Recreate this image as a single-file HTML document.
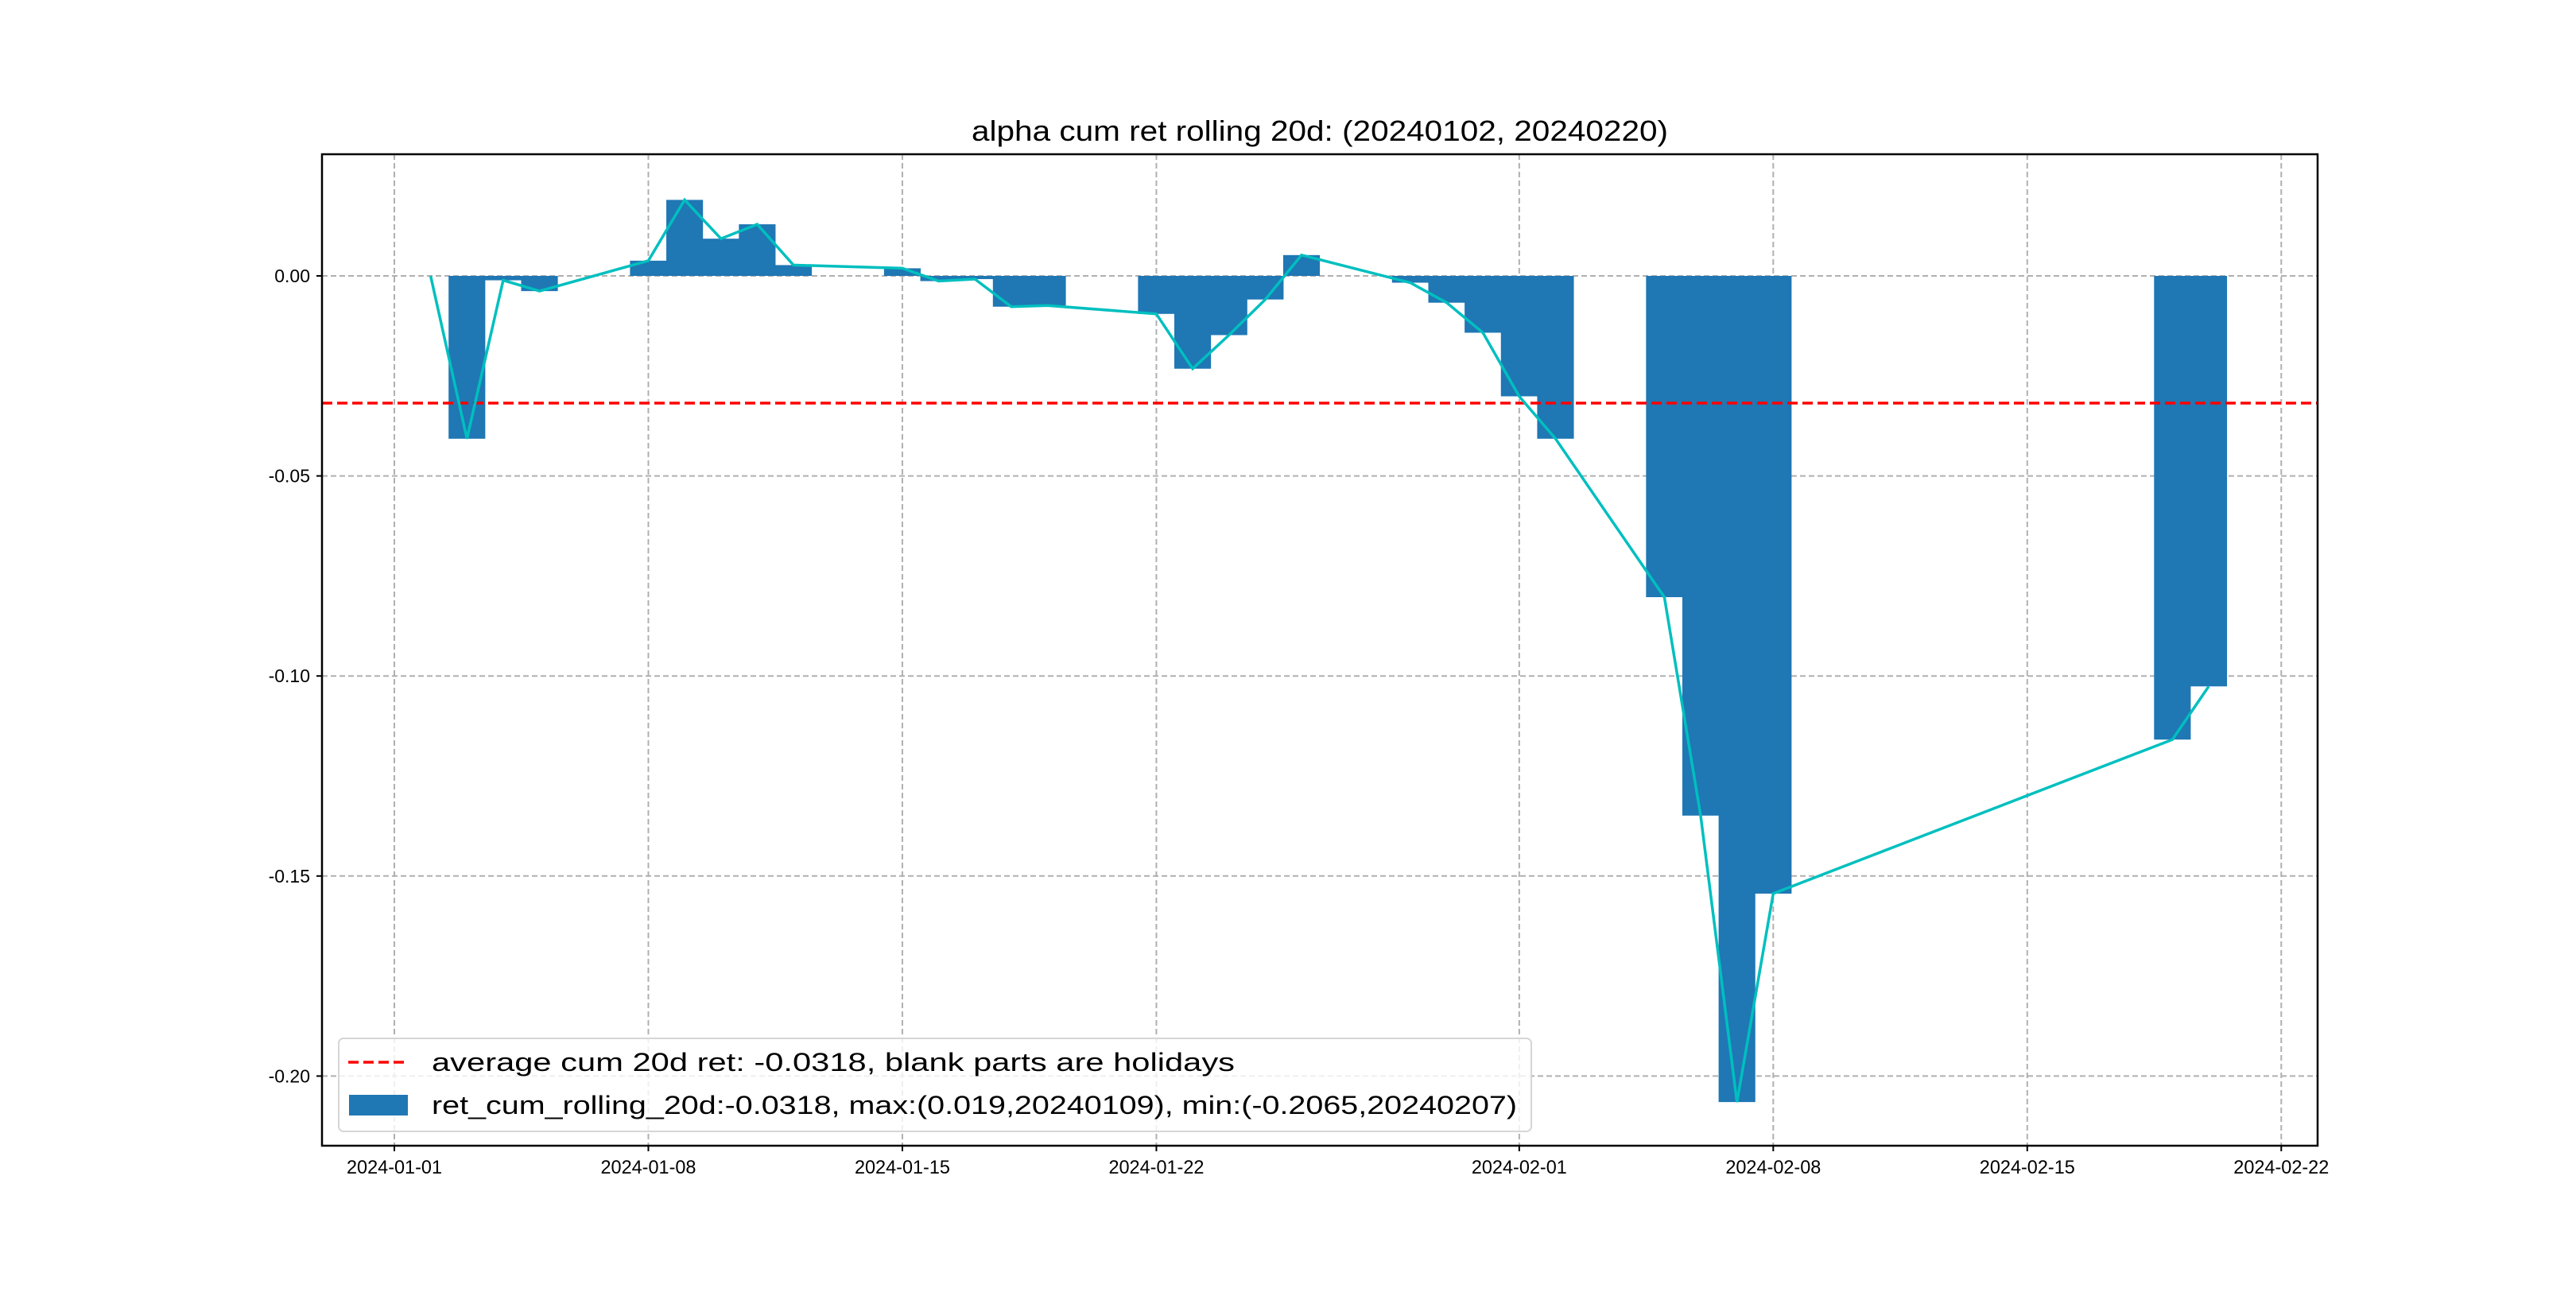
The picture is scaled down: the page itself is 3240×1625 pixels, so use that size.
<!DOCTYPE html>
<html><head><meta charset="utf-8"><style>
html,body{margin:0;padding:0;background:#fff;}
svg text{font-family:"WenQuanYi Zen Hei","Liberation Sans",sans-serif;fill:#000;}
</style></head><body>
<svg id="chart" width="3240" height="1620" viewBox="0 0 3240 1620" xmlns="http://www.w3.org/2000/svg">
<rect width="3240" height="1620" fill="#fff"/>
<text x="1660" y="177" font-size="36" text-anchor="middle" textLength="876" lengthAdjust="spacingAndGlyphs">alpha cum ret rolling 20d: (20240102, 20240220)</text>
<g id="grid"></g>
<g id="bars"></g>
<g id="avgline"></g>
<g id="line"></g>
<rect x="405" y="194" width="2510" height="1247" fill="none" stroke="#000" stroke-width="2.5"/>
<g id="ticks"></g>
<g>
<rect x="426" y="1306" width="1500" height="117" rx="6" fill="#fff" fill-opacity="0.8" stroke="#d6d6d6" stroke-width="2"/>
<line x1="438" y1="1336" x2="513" y2="1336" stroke="#ff0000" stroke-width="3.5" stroke-dasharray="13,6"/>
<text x="543" y="1347" font-size="32" textLength="1010" lengthAdjust="spacingAndGlyphs">average cum 20d ret: -0.0318, blank parts are holidays</text>
<rect x="439" y="1377" width="74" height="26" fill="#1f77b4"/>
<text x="543" y="1401" font-size="32" textLength="1365" lengthAdjust="spacingAndGlyphs">ret_cum_rolling_20d:-0.0318, max:(0.019,20240109), min:(-0.2065,20240207)</text>
</g>
</svg>
<script>
const dates = ["2024-01-02","2024-01-03","2024-01-04","2024-01-05","2024-01-08","2024-01-09","2024-01-10","2024-01-11","2024-01-12","2024-01-15","2024-01-16","2024-01-17","2024-01-18","2024-01-19","2024-01-22","2024-01-23","2024-01-24","2024-01-25","2024-01-26","2024-01-29","2024-01-30","2024-01-31","2024-02-01","2024-02-02","2024-02-05","2024-02-06","2024-02-07","2024-02-08","2024-02-19","2024-02-20"];
const values = [0,-0.0407,-0.0011,-0.0038,0.0038,0.019,0.0093,0.0129,0.0027,0.0019,-0.0013,-0.0008,-0.0077,-0.0074,-0.0095,-0.0232,-0.0148,-0.0059,0.0052,-0.0017,-0.0067,-0.0142,-0.0301,-0.0407,-0.0803,-0.1349,-0.2065,-0.1544,-0.1159,-0.1026];
const averageValue = [-0.0318];
const yTicks = [0,-0.05,-0.1,-0.15,-0.2];
const yTickLabels = ["0.00","-0.05","-0.10","-0.15","-0.20"];
const xTicks = ["2024-01-01","2024-01-08","2024-01-15","2024-01-22","2024-02-01","2024-02-08","2024-02-15","2024-02-22"];

const NS="http://www.w3.org/2000/svg";
const day0=Date.UTC(2024,0,1), DAY=86400000, PXDAY=45.64;
function xs(d){const p=d.split('-');return 496+((Date.UTC(+p[0],+p[1]-1,+p[2])-day0)/DAY)*PXDAY;}
function ys(v){return 347-v*5032;}
function mk(tag,attrs,parent){const e=document.createElementNS(NS,tag);for(const k in attrs)e.setAttribute(k,attrs[k]);parent.appendChild(e);return e;}
const L=405,R=2915,T=194,B=1441;
const grid=document.getElementById('grid'),ticks=document.getElementById('ticks');
yTicks.forEach((v,i)=>{
  const y=ys(v);
  const g=mk('line',{x1:L,x2:R,y1:y,y2:y,stroke:'#b0b0b0','stroke-width':2,'stroke-dasharray':'7,4'},grid);
  
  
  const t=mk('line',{x1:L-7,x2:L,y1:y,y2:y,stroke:'#000','stroke-width':2},ticks);
  
  
  const tx=mk('text',{x:L-15,y:y+8,'font-size':23,'text-anchor':'end'},ticks);
  tx.textContent=yTickLabels[i];
  
  
});
xTicks.forEach(d=>{
  const x=xs(d);
  const g=mk('line',{x1:x,x2:x,y1:T,y2:B,stroke:'#b0b0b0','stroke-width':2,'stroke-dasharray':'7,4'},grid);
  
  
  const t=mk('line',{x1:x,x2:x,y1:B,y2:B+7,stroke:'#000','stroke-width':2},ticks);
  
  
  const tx=mk('text',{x:x,y:1476,'font-size':24,'text-anchor':'middle',textLength:120,lengthAdjust:'spacingAndGlyphs'},ticks);
  tx.textContent=d;
  
  
});
const bars=document.getElementById('bars');
const bw=PXDAY+0.5;
dates.forEach((d,i)=>{
  const x=xs(d),y0=ys(0),y1=ys(values[i]);
  const r=mk('rect',{x:x-bw/2,y:Math.min(y0,y1),width:bw,height:Math.abs(y1-y0),fill:'#1f77b4'},bars);
  
  
});
const ay=ys(averageValue[0]);
const al=mk('line',{x1:L,x2:R,y1:ay,y2:ay,stroke:'#ff0000','stroke-width':3.5,'stroke-dasharray':'13,6'},document.getElementById('avgline'));


const pts=dates.map((d,i)=>xs(d).toFixed(1)+','+ys(values[i]).toFixed(1)).join(' ');
const pl=mk('polyline',{points:pts,fill:'none',stroke:'#00bfbf','stroke-width':3.5,'stroke-linejoin':'miter'},document.getElementById('line'));


</script>
</body></html>
